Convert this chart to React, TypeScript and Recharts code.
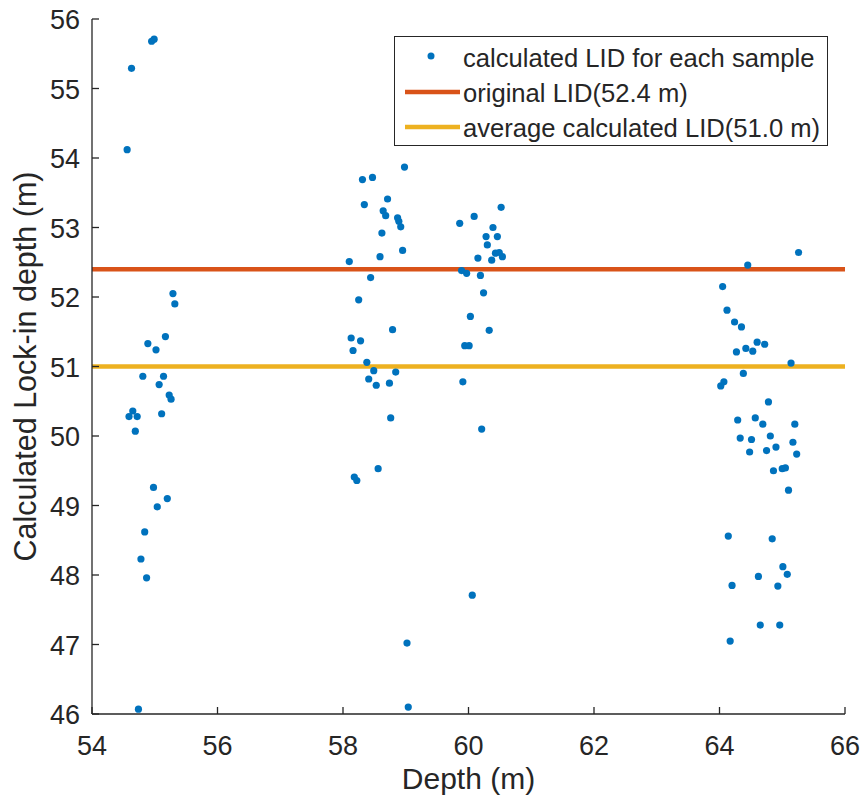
import { ScatterChart, Scatter, XAxis, YAxis, ReferenceLine, Legend } from "recharts";

const depthTicks = [54, 56, 58, 60, 62, 64, 66];
const lidTicks = [46, 47, 48, 49, 50, 51, 52, 53, 54, 55, 56];

const originalLID = 52.4;
const averageLID = 51.0;

// samples around 55 m
const depthA = [54.95, 54.99, 54.63, 54.56, 55.29, 55.32, 55.17, 54.89, 55.02, 54.81, 55.14, 55.07, 55.23, 55.26, 54.65, 54.59, 54.72, 55.11, 54.69, 54.98, 55.2, 55.04, 54.84, 54.78, 54.87, 54.74];
const lidA = [55.68, 55.71, 55.29, 54.12, 52.05, 51.9, 51.43, 51.33, 51.24, 50.86, 50.86, 50.74, 50.59, 50.53, 50.36, 50.28, 50.28, 50.32, 50.07, 49.26, 49.1, 48.98, 48.62, 48.23, 47.96, 46.07];

// samples around 58.5 m
const depthB = [58.98, 58.31, 58.47, 58.34, 58.71, 58.64, 58.68, 58.87, 58.89, 58.92, 58.62, 58.95, 58.59, 58.1, 58.44, 58.25, 58.79, 58.13, 58.28, 58.16, 58.38, 58.49, 58.84, 58.41, 58.53, 58.74, 58.76, 58.56, 58.18, 58.22, 59.02, 59.04];
const lidB = [53.87, 53.69, 53.72, 53.33, 53.41, 53.24, 53.17, 53.14, 53.09, 53.01, 52.92, 52.67, 52.58, 52.51, 52.28, 51.96, 51.53, 51.41, 51.37, 51.23, 51.06, 50.94, 50.92, 50.82, 50.73, 50.76, 50.26, 49.53, 49.41, 49.36, 47.02, 46.1];

// samples around 60 m
const depthC = [60.52, 60.09, 59.86, 60.39, 60.28, 60.46, 60.3, 60.43, 60.49, 60.54, 60.15, 60.37, 59.89, 59.97, 60.19, 60.24, 60.03, 60.33, 59.94, 60.01, 59.91, 60.21, 60.06];
const lidC = [53.29, 53.16, 53.06, 53.0, 52.87, 52.87, 52.75, 52.63, 52.64, 52.58, 52.56, 52.53, 52.38, 52.34, 52.31, 52.06, 51.72, 51.52, 51.3, 51.3, 50.78, 50.1, 47.71];

// samples around 64.5 m
const depthD = [65.26, 64.45, 64.05, 64.12, 64.24, 64.35, 64.6, 64.72, 64.42, 64.27, 64.53, 65.14, 64.38, 64.07, 64.02, 64.78, 64.29, 64.57, 64.69, 65.2, 64.33, 64.51, 64.81, 65.17, 64.48, 64.75, 64.9, 65.23, 64.86, 65.0, 65.05, 65.1, 64.14, 64.84, 65.01, 65.08, 64.62, 64.2, 64.93, 64.65, 64.96, 64.17];
const lidD = [52.64, 52.46, 52.15, 51.81, 51.64, 51.57, 51.35, 51.32, 51.26, 51.21, 51.22, 51.05, 50.9, 50.78, 50.72, 50.49, 50.23, 50.26, 50.17, 50.17, 49.97, 49.95, 50.0, 49.91, 49.77, 49.79, 49.84, 49.74, 49.5, 49.53, 49.54, 49.22, 48.56, 48.52, 48.12, 48.01, 47.98, 47.85, 47.84, 47.28, 47.28, 47.05];

const samples = [
  ...depthA.map((d, i) => ({ depth: d, lid: lidA[i] })),
  ...depthB.map((d, i) => ({ depth: d, lid: lidB[i] })),
  ...depthC.map((d, i) => ({ depth: d, lid: lidC[i] })),
  ...depthD.map((d, i) => ({ depth: d, lid: lidD[i] })),
];

const FONT = "'Liberation Sans', Arial, sans-serif";
const INK = "#262626";
const BLUE = "#0072BD";
const ORANGE = "#D95319";
const YELLOW = "#EDB120";

const XTick = (props: any) => {
  const { x, y, payload } = props;
  return (
    <g>
      <line x1={x} x2={x} y1={y} y2={y - 7} stroke={INK} strokeWidth={1.3} />
      <text x={x} y={y + 41} textAnchor="middle" fontSize={27} fill={INK} fontFamily={FONT}>
        {payload.value}
      </text>
    </g>
  );
};

const YTick = (props: any) => {
  const { x, y, payload } = props;
  return (
    <g>
      <line x1={x} x2={x + 7} y1={y} y2={y} stroke={INK} strokeWidth={1.3} />
      <text x={x - 12} y={y + 10} textAnchor="end" fontSize={27} fill={INK} fontFamily={FONT}>
        {payload.value}
      </text>
    </g>
  );
};

const renderLegend = () => (
  <div
    style={{
      width: 434,
      height: 110,
      boxSizing: "border-box",
      border: `1px solid ${INK}`,
      background: "#fff",
    }}
  >
    <svg width={432} height={108} style={{ display: "block" }}>
      <circle cx={36} cy={19} r={3.5} fill={BLUE} />
      <line x1={10} x2={65} y1={55} y2={55} stroke={ORANGE} strokeWidth={4.5} />
      <line x1={10} x2={65} y1={90} y2={90} stroke={YELLOW} strokeWidth={4.5} />
      <g fontFamily={FONT} fontSize={25.6} fill={INK}>
        <text x={68} y={30}>calculated LID for each sample</text>
        <text x={68} y={65}>original LID({originalLID.toFixed(1)} m)</text>
        <text x={68} y={100}>average calculated LID({averageLID.toFixed(1)} m)</text>
      </g>
    </svg>
  </div>
);

export default function App() {
  return (
    <div style={{ position: "absolute", left: 0, top: 0, width: 864, height: 804, background: "#fff" }}>
      <ScatterChart width={864} height={804} margin={{ top: 19, right: 19, bottom: 0, left: 0 }}>
        <XAxis
          type="number"
          dataKey="depth"
          domain={[54, 66]}
          ticks={depthTicks}
          height={90}
          tickSize={0}
          tickMargin={0}
          tick={<XTick />}
          axisLine={{ stroke: INK, strokeWidth: 1.3 }}
          allowDataOverflow
          label={(p: any) => {
            const vb = p.viewBox;
            return (
              <text x={vb.x + vb.width / 2} y={vb.y + 75} textAnchor="middle" fontSize={30} fill={INK} fontFamily={FONT}>
                Depth (m)
              </text>
            );
          }}
        />
        <YAxis
          type="number"
          dataKey="lid"
          domain={[46, 56]}
          ticks={lidTicks}
          width={92}
          tickSize={0}
          tickMargin={0}
          tick={<YTick />}
          axisLine={{ stroke: INK, strokeWidth: 1.3 }}
          allowDataOverflow
          label={(p: any) => {
            const vb = p.viewBox;
            const cy = vb.y + vb.height / 2;
            return (
              <text
                x={36}
                y={cy}
                transform={`rotate(-90 36 ${cy})`}
                textAnchor="middle"
                fontSize={30.5}
                fill={INK}
                fontFamily={FONT}
              >
                Calculated Lock-in depth (m)
              </text>
            );
          }}
        />
        <Scatter
          data={samples}
          isAnimationActive={false}
          shape={(p: any) => <circle cx={p.cx} cy={p.cy} r={3.6} fill={BLUE} />}
        />
        <ReferenceLine y={originalLID} stroke={ORANGE} strokeWidth={4.5} />
        <ReferenceLine y={averageLID} stroke={YELLOW} strokeWidth={4.5} />
        <Legend
          layout="horizontal"
          verticalAlign="middle"
          align="center"
          content={renderLegend}
          wrapperStyle={{ left: 394, top: 36, width: 434, height: 110 }}
        />
      </ScatterChart>
    </div>
  );
}
